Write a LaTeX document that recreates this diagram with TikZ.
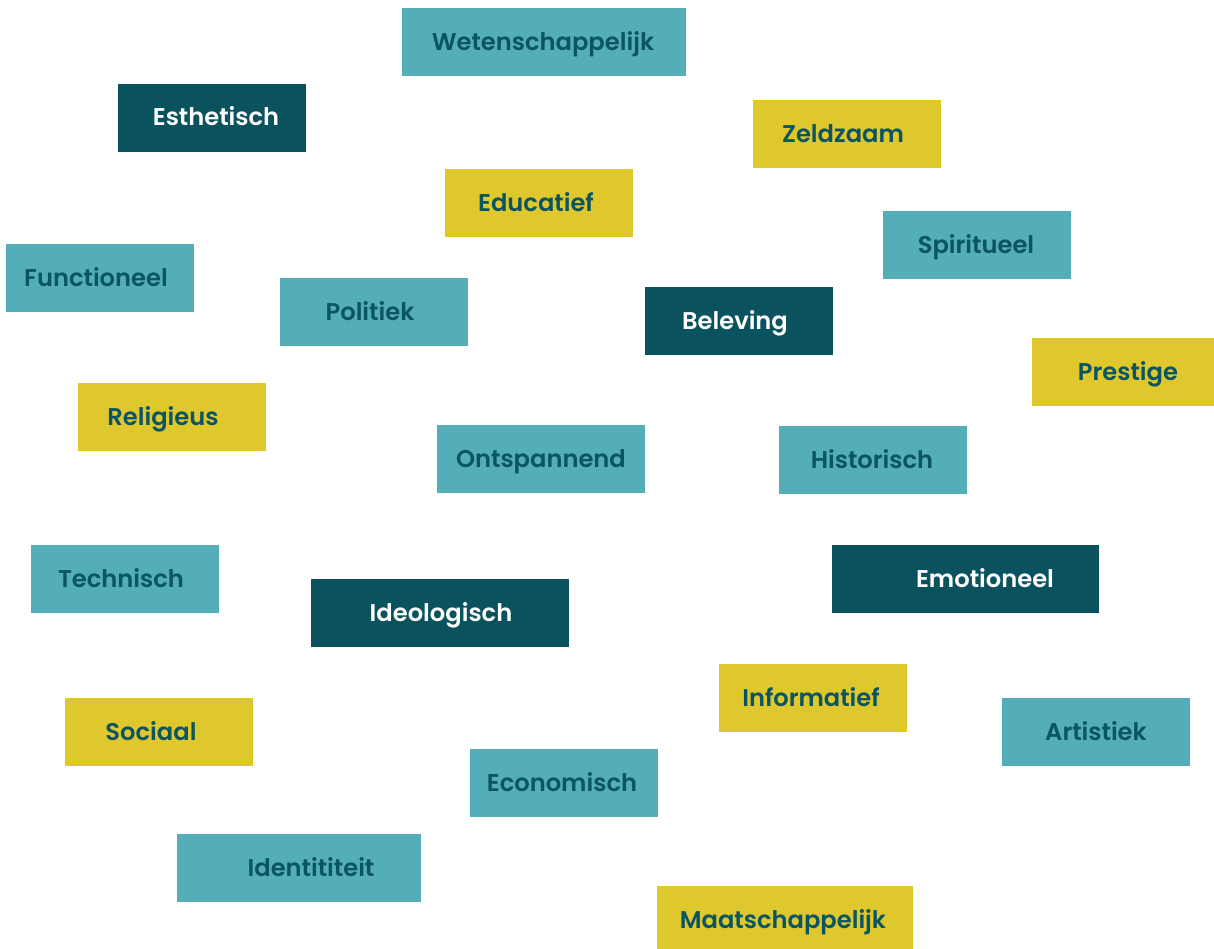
\documentclass[tikz,border=0pt]{standalone}
\usepackage{fontspec}
\setmainfont{Poppins SemiBold}
\definecolor{lteal}{HTML}{54AEB7}
\definecolor{dteal}{HTML}{0A535E}
\definecolor{ylw}{HTML}{DFC82E}
\definecolor{txt}{HTML}{0B5461}
\begin{document}
\begin{tikzpicture}[x=1pt,y=-1pt,
  tt/.style={inner sep=0pt,anchor=base,yshift=-8.5pt,font=\fontsize{24.2}{27}\selectfont,text=txt},
  wt/.style={tt,text=white}]
\useasboundingbox (0,0) rectangle (1214,949);
\fill[lteal] (402,8) rectangle (686,76);
\node[tt] (wet) at (543,42) {Wetenschappelijk};
\fill[dteal] (118,84) rectangle (306,152);
\node[wt] (est) at (216,117) {Esthetisch};
\fill[ylw] (753,100) rectangle (941,168);
\node[tt] (zel) at (843,134) {Zeldzaam};
\fill[ylw] (445,169) rectangle (633,237);
\node[tt] (edu) at (536,203) {Educatief};
\fill[lteal] (883,211) rectangle (1071,279);
\node[tt] (spi) at (976,245) {Spiritueel};
\fill[lteal] (6,244) rectangle (194,312);
\node[tt] (fun) at (96,278) {Functioneel};
\fill[lteal] (280,278) rectangle (468,346);
\node[tt] (pol) at (370,312) {Politiek};
\fill[dteal] (645,287) rectangle (833,355);
\node[wt] (bel) at (735,321) {Beleving};
\fill[ylw] (1032,338) rectangle (1214,406);
\node[tt] (pre) at (1128,372) {Prestige};
\fill[ylw] (78,383) rectangle (266,451);
\node[tt] (rel) at (163,417) {Religieus};
\fill[lteal] (437,425) rectangle (645,493);
\node[tt] (ont) at (541,459) {Ontspannend};
\fill[lteal] (779,426) rectangle (967,494);
\node[tt] (his) at (872,460) {Historisch};
\fill[lteal] (31,545) rectangle (219,613);
\node[tt] (tec) at (121,579) {Technisch};
\fill[dteal] (311,579) rectangle (569,647);
\node[wt] (ide) at (441,613) {Ideologisch};
\fill[dteal] (832,545) rectangle (1099,613);
\node[wt] (emo) at (985,579) {Emotioneel};
\fill[ylw] (719,664) rectangle (907,732);
\node[tt] (inf) at (811,698) {Informatief};
\fill[lteal] (1002,698) rectangle (1190,766);
\node[tt] (art) at (1096,732) {Artistiek};
\fill[ylw] (65,698) rectangle (253,766);
\node[tt] (soc) at (151,732) {Sociaal};
\fill[lteal] (470,749) rectangle (658,817);
\node[tt] (eco) at (562,783) {Economisch};
\fill[lteal] (177,834) rectangle (421,902);
\node[tt] (idt) at (311,868) {Identititeit};
\fill[ylw] (657,886) rectangle (913,949);
\node[tt] (maa) at (783,920) {Maatschappelijk};
\end{tikzpicture}
\end{document}
